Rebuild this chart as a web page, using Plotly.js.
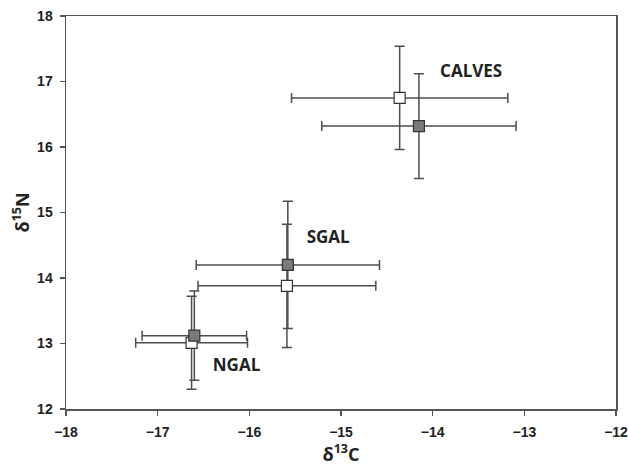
<!DOCTYPE html>
<html>
<head>
<meta charset="utf-8">
<script src="https://cdn.plot.ly/plotly-3.0.1.min.js"></script>
<style>html,body{margin:0;padding:0;background:#fff;}#chart{width:628px;height:467px;}</style>
</head>
<body>
<div id="chart"></div>
<script>
// Data
const groups = ["CALVES", "SGAL", "NGAL"];
// Open (white) series
const whiteX    = [-14.36, -15.59, -16.63];
const whiteXErr = [1.18, 0.97, 0.61];
const whiteY    = [16.75, 13.88, 13.01];
const whiteYErr = [0.79, 0.94, 0.71];
// Filled (grey) series
const greyX    = [-14.15, -15.58, -16.60];
const greyXErr = [1.06, 1.00, 0.57];
const greyY    = [16.32, 14.20, 13.12];
const greyYErr = [0.80, 0.97, 0.68];
// Group label positions
const labelX = [-13.58, -15.14, -16.14];
const labelY = [17.13, 14.6, 12.64];

const errColor = '#4d4d4d';
function errTrace(x, y, ex, ey) {
  return {
    type: 'scatter', mode: 'markers', x: x, y: y, hoverinfo: 'skip', showlegend: false,
    marker: {size: 1, color: 'rgba(0,0,0,0)'},
    error_x: {type: 'data', array: ex, visible: true, color: errColor, thickness: 1.5, width: 5},
    error_y: {type: 'data', array: ey, visible: true, color: errColor, thickness: 1.5, width: 5}
  };
}
const traces = [
  errTrace(whiteX, whiteY, whiteXErr, whiteYErr),
  errTrace(greyX, greyY, greyXErr, greyYErr),
  {type: 'scatter', mode: 'markers', x: whiteX, y: whiteY, showlegend: false,
   marker: {symbol: 'square', size: 11, color: '#ffffff', line: {color: '#333333', width: 1.2}}},
  {type: 'scatter', mode: 'markers', x: greyX, y: greyY, showlegend: false,
   marker: {symbol: 'square', size: 11, color: '#7a7a7a', line: {color: '#333333', width: 1.2}}},
  {type: 'scatter', mode: 'text', x: labelX, y: labelY, text: groups, showlegend: false,
   textposition: 'middle center',
   textfont: {family: 'Open Sans, Lato, sans-serif', size: 17, color: '#222222', weight: 'bold'}}
];

const axisCommon = {
  showgrid: false, zeroline: false, showline: true, linecolor: '#555555', linewidth: 1.5,
  mirror: true, ticks: 'outside', ticklen: 5, tickwidth: 1.2, tickcolor: '#555555',
  ticklabeloverflow: 'allow',
  tickfont: {family: 'Liberation Sans, Arial, sans-serif', size: 14, color: '#222222', weight: 'bold'}
};
const layout = {
  width: 628, height: 467,
  margin: {l: 66, r: 12, t: 16, b: 58},
  paper_bgcolor: '#ffffff', plot_bgcolor: '#ffffff',
  xaxis: Object.assign({}, axisCommon, {
    range: [-18, -12], dtick: 1, tick0: -18, ticklabelstandoff: 5,
    title: {text: 'δ<sup>13</sup>C', standoff: 2,
      font: {family: 'Open Sans, Lato, sans-serif', size: 18, color: '#222222', weight: 'bold'}}
  }),
  yaxis: Object.assign({}, axisCommon, {
    range: [12, 18], dtick: 1, tick0: 12, ticklabelstandoff: 4,
    title: {text: 'δ<sup>15</sup>N', standoff: 3,
      font: {family: 'Open Sans, Lato, sans-serif', size: 18, color: '#222222', weight: 'bold'}}
  })
};
Plotly.newPlot('chart', traces, layout, {displayModeBar: false, staticPlot: true});
</script>
</body>
</html>
